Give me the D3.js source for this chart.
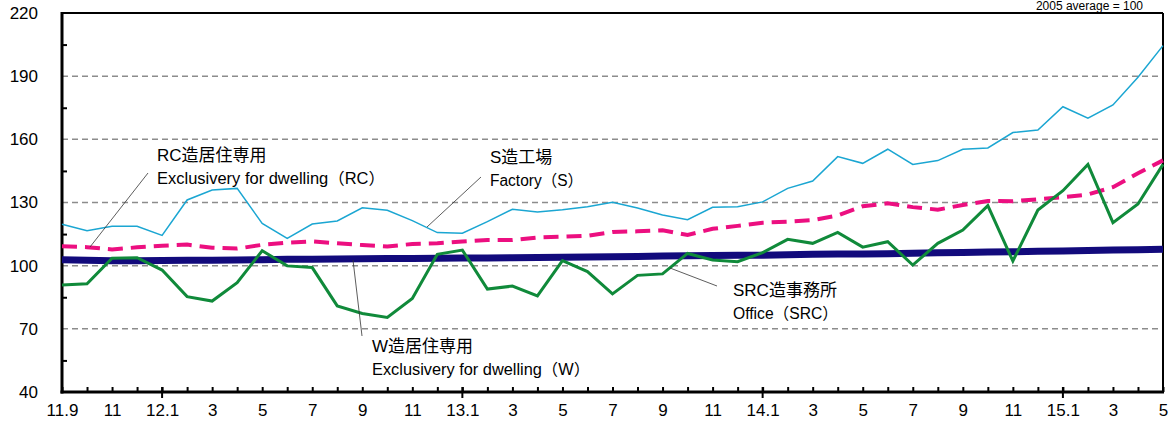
<!DOCTYPE html>
<html>
<head>
<meta charset="utf-8">
<script src="https://cdn.jsdelivr.net/npm/d3@7"></script>
<style>
body { margin: 0; background: #fff; }
text { font-family: "Liberation Sans", "Noto Sans CJK JP", sans-serif; }
</style>
</head>
<body>
<script>
// x tick labels, one every 2 months from 2011.9 to 2015.5
var xLabels = ["11.9","11","12.1","3","5","7","9","11","13.1","3","5","7","9","11","14.1","3","5","7","9","11","15.1","3","5"];
var janIndex = [4, 16, 28, 40];
var yTicks = [40, 70, 100, 130, 160, 190, 220];
var yMinor = [55, 85, 115, 145, 175, 205];

// S造工場 Factory (S)
var factoryS = [119.7,116.6,118.7,118.7,114.4,131.2,135.9,136.7,120.1,113,
  119.8,121.2,127.5,126.3,121.4,115.7,115.4,120.9,126.8,125.5,
  126.6,128,130.1,127.4,124.1,121.8,127.7,128,130.3,136.7,
  140.2,151.8,148.6,155.3,148.1,149.9,155.3,155.9,163.2,164.4,
  175.5,170,176.3,189.5,204.5];
// RC造居住専用
var dwellingRC = [109.2,108.8,107.7,108.7,109.5,110,108.5,108.1,109.9,110.9,
  111.5,110.6,109.8,109.1,110.3,110.6,111.5,112.2,112.2,113.4,
  113.8,114.2,116,116.3,116.8,114.6,117.5,118.9,120.4,120.9,
  121.6,123.8,128.2,129.6,127.8,126.6,128.8,130.7,130.6,131.5,
  132.5,133.8,137.3,143.9,150];
// SRC造事務所 Office (SRC)
var officeSRC = [102.8,102.6,102.3,102.3,102.5,102.6,102.6,102.7,102.8,103,
  103.1,103.2,103.3,103.4,103.4,103.5,103.6,103.7,103.8,103.9,
  104,104.1,104.2,104.4,104.6,104.7,104.8,104.9,105,105.2,
  105.4,105.5,105.6,105.7,105.9,106.1,106.3,106.5,106.6,106.8,
  107,107.2,107.4,107.6,107.8];
// W造居住専用
var dwellingW = [90.8,91.4,103.5,103.8,97.9,85.3,83.2,91.9,107.1,99.9,
  99.1,80.9,77.3,75.4,84.4,105.4,107.4,88.9,90.3,85.6,
  102.4,97.2,86.6,95.4,96.1,105.8,102.7,101.9,106.2,112.5,
  110.6,115.8,108.8,111.4,100.3,110.6,116.9,128.5,102.2,126.4,
  135.6,148.1,120.4,129.3,148.1];

var svg = d3.select("body").append("svg")
  .attr("width", 1172)
  .attr("height", 425);

var x = d3.scaleLinear().domain([0, 44]).range([62, 1163]);
var y = d3.scaleLinear().domain([40, 220]).range([392, 13]);

// dashed grid
svg.append("g").selectAll("line")
  .data(yTicks.filter(function(d) { return d > 40 && d < 220; }))
  .enter().append("line")
    .attr("x1", x(0)).attr("x2", x(44))
    .attr("y1", function(d) { return y(d); })
    .attr("y2", function(d) { return y(d); })
    .attr("stroke", "#8c8c8c")
    .attr("stroke-width", 1.5)
    .attr("stroke-dasharray", "6,4");

// frame top + right
svg.append("line").attr("x1", x(0)).attr("x2", x(44)).attr("y1", y(220)).attr("y2", y(220))
  .attr("stroke", "#000").attr("stroke-width", 2);
svg.append("line").attr("x1", x(44)).attr("x2", x(44)).attr("y1", y(220)).attr("y2", y(40))
  .attr("stroke", "#000").attr("stroke-width", 2);

// y axis labels + minor ticks
var yAxis = svg.append("g").attr("transform", "translate(" + x(0) + ",0)")
  .call(d3.axisLeft(y).tickValues(yTicks).tickSize(0).tickPadding(24));
yAxis.select(".domain").remove();
yAxis.selectAll("text").attr("font-size", 17).attr("fill", "#000")
  .attr("font-family", "Liberation Sans, sans-serif");

var yMinorAxis = svg.append("g").attr("transform", "translate(" + x(0) + ",0)")
  .call(d3.axisLeft(y).tickValues(yMinor).tickSize(-5).tickFormat(""));
yMinorAxis.select(".domain").remove();
yMinorAxis.selectAll("line").attr("stroke", "#000").attr("stroke-width", 2);

// x axis: monthly ticks pointing in, January ticks cross the axis
var xMinor = svg.append("g").attr("transform", "translate(0," + y(40) + ")")
  .call(d3.axisBottom(x).tickValues(d3.range(0, 45)).tickSize(-5).tickFormat(""));
xMinor.select(".domain").remove();
xMinor.selectAll("line").attr("stroke", "#000").attr("stroke-width", 2);

svg.append("g").selectAll("line").data(janIndex).enter().append("line")
  .attr("x1", function(d) { return x(d); }).attr("x2", function(d) { return x(d); })
  .attr("y1", y(40) - 5).attr("y2", y(40) + 6)
  .attr("stroke", "#000").attr("stroke-width", 2);

var xAxis = svg.append("g").attr("transform", "translate(0," + y(40) + ")")
  .call(d3.axisBottom(x).tickValues(d3.range(0, 45, 2)).tickSize(0).tickPadding(12)
    .tickFormat(function(d) { return xLabels[d / 2]; }));
xAxis.select(".domain").remove();
xAxis.selectAll("text").attr("font-size", 17).attr("fill", "#000")
  .attr("font-family", "Liberation Sans, sans-serif");

// axis lines
svg.append("line").attr("x1", x(0)).attr("x2", x(0)).attr("y1", y(220) - 1).attr("y2", y(40) + 1.5)
  .attr("stroke", "#000").attr("stroke-width", 3);
svg.append("line").attr("x1", x(0) - 1.5).attr("x2", x(44) + 1).attr("y1", y(40)).attr("y2", y(40))
  .attr("stroke", "#000").attr("stroke-width", 3);

// series
var line = d3.line()
  .x(function(d, i) { return x(i); })
  .y(function(d) { return y(d); });

svg.append("path").datum(factoryS).attr("d", line)
  .attr("fill", "none").attr("stroke", "#1ba6d2").attr("stroke-width", 1.5);
svg.append("path").datum(officeSRC).attr("d", line)
  .attr("fill", "none").attr("stroke", "#120a7c").attr("stroke-width", 7);
svg.append("path").datum(dwellingRC).attr("d", line)
  .attr("fill", "none").attr("stroke", "#ec0f80").attr("stroke-width", 4)
  .attr("stroke-dasharray", "15,8");
svg.append("path").datum(dwellingW).attr("d", line)
  .attr("fill", "none").attr("stroke", "#108a3a").attr("stroke-width", 3);

// labels with leader lines
var notes = [
  { jp: "RC造居住専用", en: "Exclusivery for dwelling（RC）", tx: 157, ty: 161, enLen: 228, lx1: 148, ly1: 173, lx2: 90, ly2: 247 },
  { jp: "S造工場", en: "Factory（S）", tx: 490, ty: 163, enLen: 93, lx1: 481, ly1: 177, lx2: 427, ly2: 227 },
  { jp: "SRC造事務所", en: "Office（SRC）", tx: 733, ty: 296, enLen: 105, lx1: 717, ly1: 286, lx2: 670, ly2: 268 },
  { jp: "W造居住専用", en: "Exclusivery for dwelling（W）", tx: 372, ty: 352, enLen: 218, lx1: 353, ly1: 260, lx2: 362, ly2: 336 }
];

var g = svg.append("g");
g.selectAll("line.lead").data(notes).enter().append("line")
  .attr("class", "lead")
  .attr("x1", function(d) { return d.lx1; }).attr("y1", function(d) { return d.ly1; })
  .attr("x2", function(d) { return d.lx2; }).attr("y2", function(d) { return d.ly2; })
  .attr("stroke", "#333").attr("stroke-width", 0.8);
g.selectAll("text.jp").data(notes).enter().append("text")
  .attr("class", "jp")
  .attr("x", function(d) { return d.tx; }).attr("y", function(d) { return d.ty; })
  .attr("font-size", 17)
  .attr("font-family", "Noto Sans CJK JP, sans-serif")
  .text(function(d) { return d.jp; });
g.selectAll("text.en").data(notes).enter().append("text")
  .attr("class", "en")
  .attr("x", function(d) { return d.tx; }).attr("y", function(d) { return d.ty + 23; })
  .attr("font-size", 16)
  .attr("font-family", "Noto Sans CJK JP, sans-serif")
  .attr("textLength", function(d) { return d.enLen; })
  .attr("lengthAdjust", "spacingAndGlyphs")
  .text(function(d) { return d.en; });

// base note, kept just above the frame
svg.append("text").attr("x", 1143).attr("y", 10)
  .attr("text-anchor", "end").attr("font-size", 12)
  .attr("font-family", "Liberation Sans, sans-serif")
  .text("2005 average = 100");
</script>
</body>
</html>
